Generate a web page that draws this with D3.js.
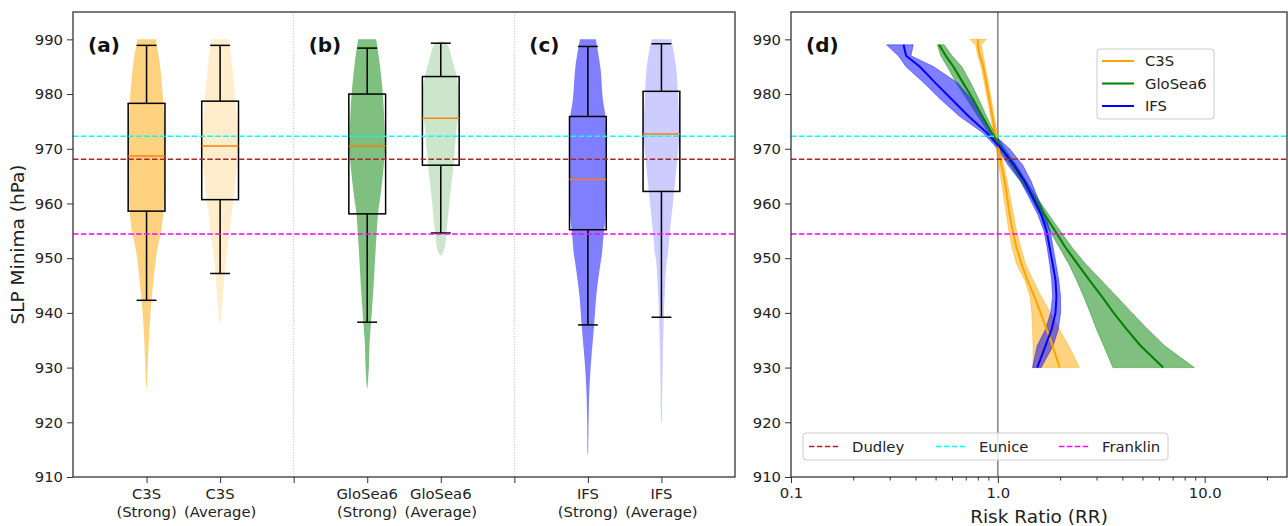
<!DOCTYPE html>
<html>
<head>
  <style>
    body { margin: 0; padding: 0; background: white; }
    svg { display: block; font-family: "DejaVu Sans", sans-serif; }
  </style>
</head>
<body>
  <div id="chart"></div>

  <script src="https://cdnjs.cloudflare.com/ajax/libs/d3/7.8.5/d3.min.js"></script>
  <script>
    // ---- data ----
    const models = ['C3S', 'GloSea6', 'IFS'];
    const kinds = ['(Strong)', '(Average)'];
    const modelColors = ['#FFA500', '#008000', '#0000FF'];
    const panelTags = ['(a)', '(b)', '(c)', '(d)'];

    // box plot stats, order: C3S S, C3S A, GloSea6 S, GloSea6 A, IFS S, IFS A
    const whisLo = [942.3, 947.2, 938.3, 954.6, 937.8, 939.2];
    const q1 = [958.6, 960.7, 958.1, 967.0, 955.2, 962.2];
    const med = [968.7, 970.5, 970.5, 975.6, 964.4, 972.7];
    const q3 = [978.3, 978.7, 980.0, 983.2, 975.9, 980.5];
    const whisHi = [988.9, 988.9, 988.4, 989.3, 988.7, 989.2];

    // violin outlines: [slp, relative density]
    const violinC3SStrong = [[990, 0.49], [985.6, 0.72], [979.5, 0.89], [973.4, 0.98], [968, 1.0], [964.2, 0.99], [961, 0.97], [958, 0.9], [955, 0.8], [951, 0.55], [946, 0.38], [942.3, 0.27], [937.4, 0.16], [931.4, 0.08], [926.5, 0.02]];
    const violinC3SAverage = [[990, 0.49], [985.6, 0.64], [979.5, 0.82], [973.4, 0.95], [970, 0.97], [967.3, 0.93], [961.2, 0.74], [956.3, 0.56], [954.5, 0.51], [950.9, 0.36], [949.6, 0.31], [946, 0.22], [942.3, 0.14], [938, 0.02]];
    const violinGloStrong = [[990, 0.49], [985.6, 0.68], [979.5, 0.86], [973.4, 0.95], [970.3, 0.98], [967.3, 0.91], [964.2, 0.82], [961.2, 0.71], [958.2, 0.59], [953.9, 0.5], [949.4, 0.42], [943.5, 0.32], [938.3, 0.21], [934.4, 0.13], [930.1, 0.09], [926.3, 0.02]];
    const violinGloAverage = [[989.6, 0.1], [989.2, 0.33], [985.6, 0.68], [982.5, 0.91], [979.5, 0.98], [976.4, 0.96], [973.4, 0.85], [967.3, 0.7], [961.2, 0.5], [955.1, 0.32], [951.5, 0.18], [950.5, 0.03]];
    const violinIFSStrong = [[990, 0.43], [984.9, 0.68], [978.9, 0.82], [975.8, 0.96], [969.7, 1.0], [963.6, 0.98], [957.5, 0.96], [954.5, 0.86], [950.9, 0.77], [949.6, 0.71], [943.5, 0.47], [937.8, 0.34], [931.4, 0.18], [926.5, 0.09], [922.2, 0.05], [914.3, 0.02]];
    const violinIFSAverage = [[990, 0.54], [984.9, 0.8], [978.9, 0.91], [972.8, 0.98], [966.7, 0.82], [960.6, 0.64], [954.5, 0.45], [950.9, 0.36], [949.6, 0.29], [943.5, 0.18], [939.2, 0.13], [931.4, 0.07], [920.1, 0.02]];

    // storms
    const stormNames = ['Dudley', 'Eunice', 'Franklin'];
    const stormSLP = [968.1, 972.3, 954.4];
    const stormColors = ['#A52A2A', '#00FFFF', '#FF00FF'];

    // risk ratio curves (panel d)
    const rrLevels = [990, 989, 987, 985, 982, 979, 976, 973, 970, 967, 964, 961, 958, 955, 952, 949, 946, 943, 940, 937, 934, 930];
    const c3sMed = [0.80, 0.80, 0.82, 0.85, 0.88, 0.91, 0.94, 0.97, 1.01, 1.04, 1.08, 1.11, 1.14, 1.18, 1.23, 1.30, 1.39, 1.50, 1.61, 1.72, 1.84, 1.99];
    const c3sLo = [0.73, 0.78, 0.80, 0.83, 0.86, 0.89, 0.92, 0.95, 0.98, 1.01, 1.04, 1.07, 1.10, 1.13, 1.17, 1.23, 1.35, 1.43, 1.46, 1.47, 1.48, 1.48];
    const c3sHi = [0.88, 0.83, 0.85, 0.87, 0.90, 0.93, 0.96, 0.99, 1.03, 1.07, 1.11, 1.15, 1.19, 1.23, 1.29, 1.36, 1.48, 1.62, 1.80, 1.98, 2.20, 2.48];
    const gloMed = [null, 0.52, 0.56, 0.61, 0.68, 0.76, 0.84, 0.93, 1.05, 1.19, 1.33, 1.50, 1.68, 1.89, 2.12, 2.42, 2.77, 3.18, 3.63, 4.20, 4.90, 6.30];
    const gloLo = [null, 0.51, 0.53, 0.57, 0.63, 0.71, 0.80, 0.90, 1.02, 1.15, 1.29, 1.45, 1.60, 1.78, 1.98, 2.20, 2.40, 2.60, 2.80, 3.00, 3.25, 3.60];
    const gloHi = [null, 0.55, 0.60, 0.67, 0.74, 0.81, 0.88, 0.96, 1.08, 1.23, 1.38, 1.55, 1.76, 2.00, 2.28, 2.65, 3.15, 3.75, 4.45, 5.30, 6.40, 8.90];
    const ifsMed = [null, 0.35, 0.36, 0.42, 0.50, 0.60, 0.72, 0.88, 1.04, 1.20, 1.35, 1.48, 1.62, 1.72, 1.78, 1.84, 1.90, 1.92, 1.90, 1.82, 1.70, 1.55];
    const ifsLo = [null, 0.29, 0.33, 0.36, 0.44, 0.53, 0.65, 0.84, 1.00, 1.12, 1.29, 1.42, 1.56, 1.67, 1.73, 1.78, 1.82, 1.84, 1.80, 1.70, 1.55, 1.47];
    const ifsHi = [null, 0.39, 0.38, 0.49, 0.64, 0.75, 0.84, 0.93, 1.14, 1.32, 1.45, 1.56, 1.69, 1.79, 1.85, 1.91, 1.97, 2.01, 2.01, 1.96, 1.85, 1.62];

    const slpTicks = [910, 920, 930, 940, 950, 960, 970, 980, 990];
    const rrMajor = [0.1, 1, 10];
    const rrMinor = [0.2, 0.3, 0.4, 0.5, 0.6, 0.7, 0.8, 0.9, 2, 3, 4, 5, 6, 7, 8, 9, 20];

    // ---- drawing ----
    const W = 1288, H = 526;
    const svg = d3.select('#chart').append('svg').attr('width', W).attr('height', H);

    const axisColor = '#333';
    const tickFont = '14.8px';

    const y = d3.scaleLinear().domain([910, 995]).range([477, 12]);
    const xL = d3.scaleLinear().domain([0, 9]).range([73, 735]);
    const xR = d3.scaleLog().domain([0.1, 25]).range([791, 1287]);

    function styleAxis(g) {
      g.select('.domain').remove();
      g.selectAll('.tick line').attr('stroke', axisColor).attr('stroke-width', 1);
      g.selectAll('.tick text').attr('fill', '#222').style('font-size', tickFont).style('font-family', 'DejaVu Sans');
    }

    // ===== left panel =====
    const left = svg.append('g');
    const violins = [violinC3SStrong, violinC3SAverage, violinGloStrong, violinGloAverage, violinIFSStrong, violinIFSAverage];
    const positions = violins.map((v, i) => Math.floor(i / 2) * 3 + (i % 2) + 1);
    const halfW = 0.25;

    // separators
    [3, 6].forEach(p => {
      left.append('line')
        .attr('x1', xL(p)).attr('x2', xL(p))
        .attr('y1', y(995)).attr('y2', y(910))
        .attr('stroke', '#bbb').attr('stroke-width', 1)
        .attr('stroke-dasharray', '1,1.7');
    });

    violins.forEach((v, i) => {
      const pos = positions[i];
      const col = d3.color(modelColors[Math.floor(i / 2)]);
      col.opacity = i % 2 === 0 ? 0.5 : 0.2;
      const area = d3.area()
        .y(d => y(d[0]))
        .x0(d => xL(pos - d[1] * halfW))
        .x1(d => xL(pos + d[1] * halfW))
        .curve(d3.curveCatmullRom);
      left.append('path').attr('d', area(v)).attr('fill', col.toString());
    });

    // boxes
    positions.forEach((pos, i) => {
      const g = left.append('g').attr('stroke', 'black').attr('stroke-width', 1.5).attr('fill', 'none');
      g.append('rect')
        .attr('x', xL(pos - 0.25)).attr('width', xL(0.5) - xL(0))
        .attr('y', y(q3[i])).attr('height', y(q1[i]) - y(q3[i]));
      g.append('line').attr('x1', xL(pos)).attr('x2', xL(pos)).attr('y1', y(q3[i])).attr('y2', y(whisHi[i]));
      g.append('line').attr('x1', xL(pos)).attr('x2', xL(pos)).attr('y1', y(q1[i])).attr('y2', y(whisLo[i]));
      g.append('line').attr('x1', xL(pos - 0.135)).attr('x2', xL(pos + 0.135)).attr('y1', y(whisHi[i])).attr('y2', y(whisHi[i]));
      g.append('line').attr('x1', xL(pos - 0.135)).attr('x2', xL(pos + 0.135)).attr('y1', y(whisLo[i])).attr('y2', y(whisLo[i]));
      left.append('line')
        .attr('x1', xL(pos - 0.25)).attr('x2', xL(pos + 0.25))
        .attr('y1', y(med[i])).attr('y2', y(med[i]))
        .attr('stroke', '#FF7F0E').attr('stroke-width', 1.5);
    });

    // storm lines
    function stormLines(g, x0, x1) {
      stormSLP.forEach((s, i) => {
        g.append('line')
          .attr('x1', x0).attr('x2', x1)
          .attr('y1', y(s)).attr('y2', y(s))
          .attr('stroke', stormColors[i]).attr('stroke-width', 1.5)
          .attr('stroke-dasharray', '5.5,2.4');
      });
    }
    stormLines(left, 73, 735);

    // axes
    left.append('g').attr('transform', 'translate(73,0)')
      .call(d3.axisLeft(y).tickValues(slpTicks).tickSize(6).tickPadding(4).tickFormat(d3.format('d')))
      .call(styleAxis);
    left.append('g').attr('transform', 'translate(0,477)')
      .call(d3.axisBottom(xL).tickValues([1, 2, 3, 4, 5, 6, 7, 8]).tickSize(6).tickFormat(''))
      .call(styleAxis);

    positions.forEach((pos, i) => {
      const t = left.append('text')
        .attr('x', xL(pos)).attr('y', 499)
        .attr('text-anchor', 'middle')
        .style('font-size', tickFont).attr('fill', '#222');
      t.append('tspan').attr('x', xL(pos)).text(models[Math.floor(i / 2)]);
      t.append('tspan').attr('x', xL(pos)).attr('dy', 18).text(kinds[i % 2]);
    });

    left.append('rect')
      .attr('x', 73).attr('y', 12).attr('width', 735 - 73).attr('height', 477 - 12)
      .attr('fill', 'none').attr('stroke', axisColor).attr('stroke-width', 1.3);

    left.append('text')
      .attr('transform', `translate(24,${(12 + 477) / 2}) rotate(-90)`)
      .attr('text-anchor', 'middle')
      .style('font-size', '18.5px').attr('fill', '#222')
      .text('SLP Minima (hPa)');

    [0, 3, 6].forEach((p, i) => {
      left.append('text')
        .attr('x', xL(p) + 15).attr('y', 52)
        .style('font-size', '20px').style('font-weight', 'bold').attr('fill', '#111')
        .text(panelTags[i]);
    });

    // ===== right panel =====
    const right = svg.append('g');

    right.append('line')
      .attr('x1', xR(1)).attr('x2', xR(1)).attr('y1', y(995)).attr('y2', y(910))
      .attr('stroke', 'grey').attr('stroke-width', 1.5);

    const series = [
      { med: c3sMed, lo: c3sLo, hi: c3sHi },
      { med: gloMed, lo: gloLo, hi: gloHi },
      { med: ifsMed, lo: ifsLo, hi: ifsHi }
    ];

    series.forEach((s, k) => {
      const rows = rrLevels.map((l, j) => ({ l: l, m: s.med[j], lo: s.lo[j], hi: s.hi[j] }))
        .filter(r => r.m !== null);
      const band = d3.area()
        .y(d => y(d.l))
        .x0(d => xR(d.lo))
        .x1(d => xR(d.hi));
      const c = d3.color(modelColors[k]);
      c.opacity = 0.5;
      right.append('path').attr('d', band(rows)).attr('fill', c.toString())
        .attr('stroke', c.toString()).attr('stroke-width', 0.8);
    });
    series.forEach((s, k) => {
      const rows = rrLevels.map((l, j) => ({ l: l, m: s.med[j] })).filter(r => r.m !== null);
      const line = d3.line().y(d => y(d.l)).x(d => xR(d.m));
      right.append('path').attr('d', line(rows)).attr('fill', 'none')
        .attr('stroke', modelColors[k]).attr('stroke-width', 2);
    });

    stormLines(right, 791, 1287);

    right.append('g').attr('transform', 'translate(791,0)')
      .call(d3.axisLeft(y).tickValues(slpTicks).tickSize(6).tickPadding(4).tickFormat(d3.format('d')))
      .call(styleAxis);
    right.append('g').attr('transform', 'translate(0,477)')
      .call(d3.axisBottom(xR).tickValues(rrMajor).tickSize(6).tickPadding(4).tickFormat(d3.format('.1f')))
      .call(styleAxis);
    right.append('g').attr('transform', 'translate(0,477)')
      .call(d3.axisBottom(xR).tickValues(rrMinor).tickSize(3.5).tickFormat(''))
      .call(styleAxis);

    right.append('rect')
      .attr('x', 791).attr('y', 12).attr('width', 1287 - 791).attr('height', 477 - 12)
      .attr('fill', 'none').attr('stroke', axisColor).attr('stroke-width', 1.3);

    right.append('text')
      .attr('x', (791 + 1287) / 2).attr('y', 523)
      .attr('text-anchor', 'middle')
      .style('font-size', '18.5px').attr('fill', '#222')
      .text('Risk Ratio (RR)');

    right.append('text')
      .attr('x', 806).attr('y', 52)
      .style('font-size', '20px').style('font-weight', 'bold').attr('fill', '#111')
      .text(panelTags[3]);

    // model legend
    const lg = right.append('g');
    lg.append('rect').attr('x', 1097).attr('y', 49).attr('width', 117).attr('height', 70)
      .attr('rx', 3).attr('fill', 'rgba(255,255,255,0.8)').attr('stroke', '#ccc');
    models.forEach((m, i) => {
      const yy = 61 + i * 22.5;
      lg.append('line').attr('x1', 1102).attr('x2', 1134).attr('y1', yy).attr('y2', yy)
        .attr('stroke', modelColors[i]).attr('stroke-width', 2);
      lg.append('text').attr('x', 1145).attr('y', yy + 5)
        .style('font-size', tickFont).attr('fill', '#222').text(m);
    });

    // storm legend
    const sg = right.append('g');
    sg.append('rect').attr('x', 803).attr('y', 433).attr('width', 365).attr('height', 27)
      .attr('rx', 3).attr('fill', 'rgba(255,255,255,0.8)').attr('stroke', '#ccc');
    const stormX = [809, 936, 1059];
    stormNames.forEach((n, i) => {
      sg.append('line').attr('x1', stormX[i]).attr('x2', stormX[i] + 30).attr('y1', 446.5).attr('y2', 446.5)
        .attr('stroke', stormColors[i]).attr('stroke-width', 1.5).attr('stroke-dasharray', '5.5,2.4');
      sg.append('text').attr('x', stormX[i] + 43).attr('y', 451.5)
        .style('font-size', tickFont).attr('fill', '#222').text(n);
    });
  </script>
</body>
</html>
